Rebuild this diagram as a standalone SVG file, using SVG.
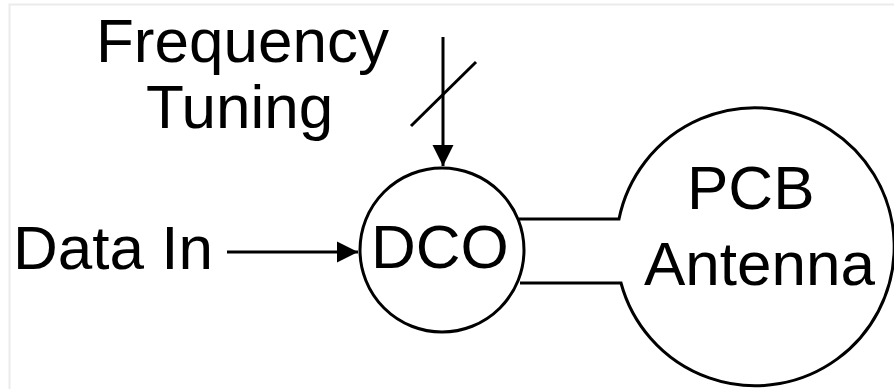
<svg xmlns="http://www.w3.org/2000/svg" width="894" height="389" viewBox="0 0 894 389">
<style>
.t{font-family:"Liberation Sans",Arial,sans-serif;font-size:62px;fill:#000}
.s{fill:none;stroke:#000;stroke-width:3}
</style>
<defs>
<marker id="ah" markerWidth="8" markerHeight="8" refX="7" refY="4" orient="auto" markerUnits="strokeWidth">
<path d="M0,0.5 L7,4 L0,7.5 Z" fill="#000"/>
</marker>
</defs>
<rect width="894" height="389" fill="#fff"/>
<path d="M9.5,389 V4.5 H894" fill="none" stroke="#ebebeb" stroke-width="2"/>
<g id="freq">
<text class="t" x="96" y="62">Frequency</text>
<text class="t" x="146" y="128">Tuning</text>
</g>
<g id="datain">
<text class="t" x="13" y="269">Data In</text>
</g>
<g id="dco">
<circle class="s" cx="442" cy="250" r="82"/>
<text class="t" x="371" y="268">DCO</text>
</g>
<g id="antenna">
<path class="s" d="M519,219 L619,219 A139,139 0 1 1 621,283 L520,283"/>
<text class="t" x="687" y="209">PCB</text>
<text class="t" x="644" y="285">Antenna</text>
</g>
<g id="connectors">
<line class="s" x1="443" y1="37" x2="443" y2="166" marker-end="url(#ah)"/>
<line class="s" x1="411" y1="126" x2="476" y2="62"/>
<line class="s" x1="227" y1="252" x2="358" y2="252" marker-end="url(#ah)"/>
</g>
</svg>
